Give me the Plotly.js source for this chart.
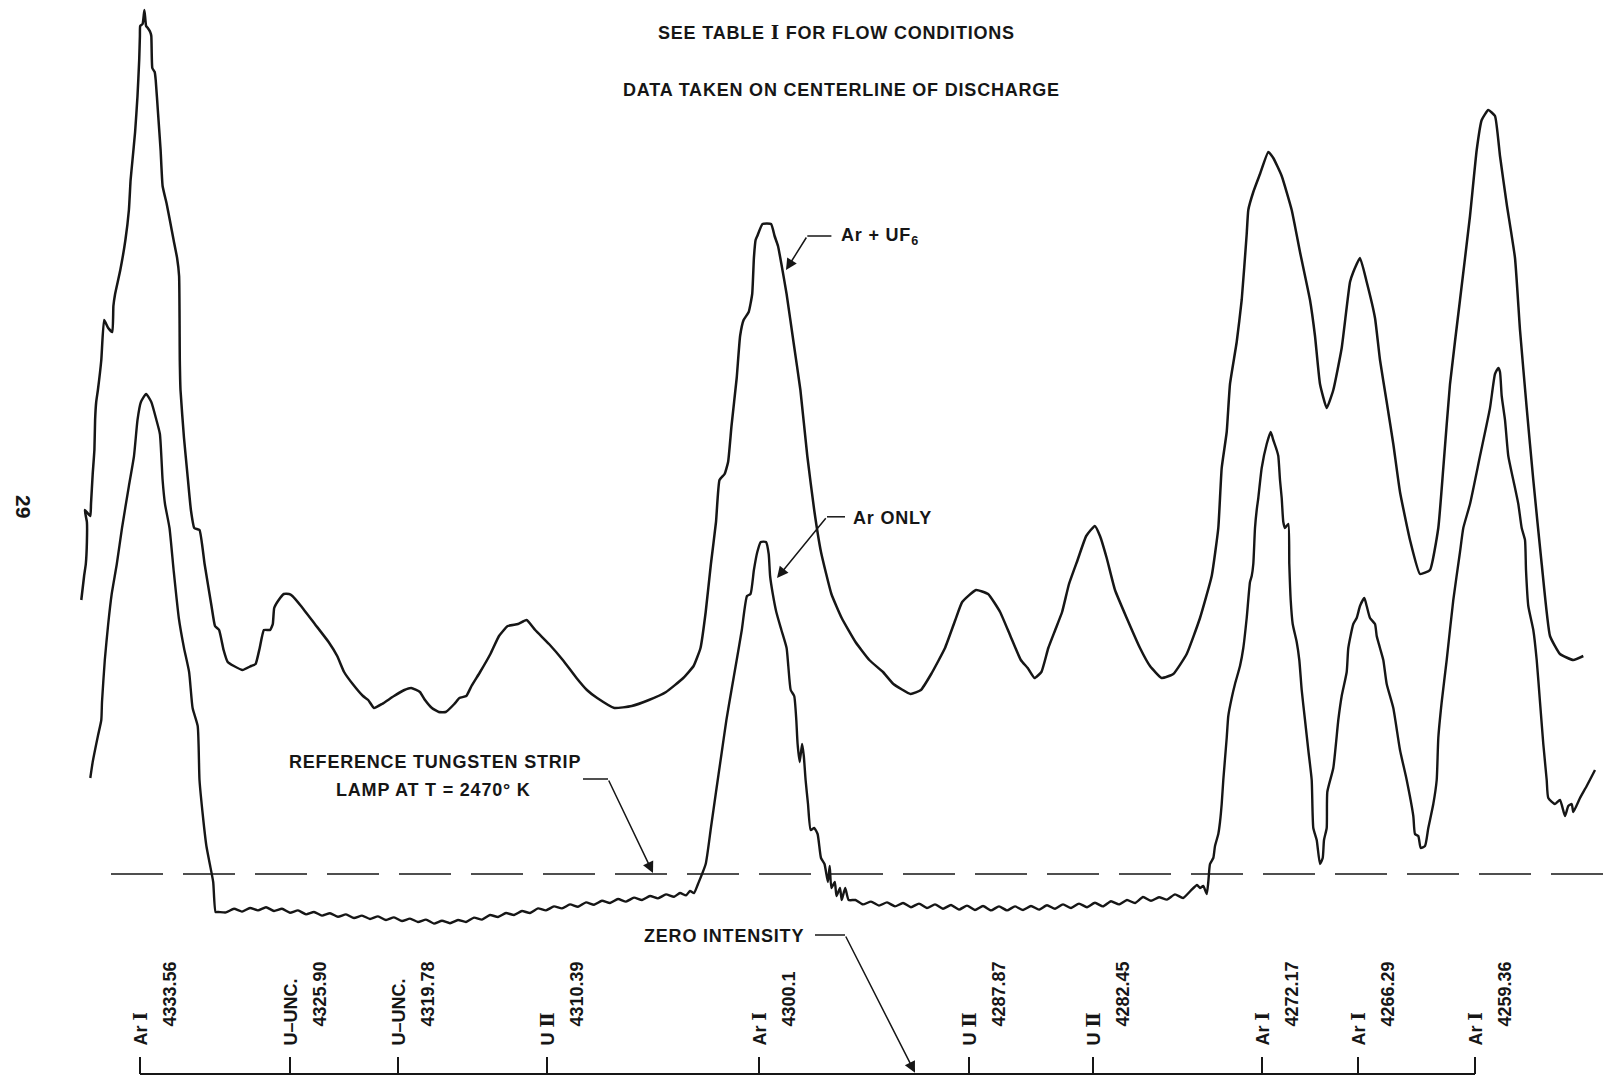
<!DOCTYPE html>
<html>
<head>
<meta charset="utf-8">
<script src="https://cdn.plot.ly/plotly-3.0.1.min.js"></script>
<style>
  html, body { margin: 0; padding: 0; background: #ffffff; }
  #chart { width: 1607px; height: 1076px; }
</style>
</head>
<body>
<div id="chart"></div>
<script>
// Spectrometer scan across 4334-4258 A, recorder position (chart units)
// versus intensity relative to the reference tungsten strip lamp.

// Ar + UF6 discharge
const posUF6 = [81.3,84.1,85.8,86.9,86.9,84.8,90.3,91.0,92.7,94.4,95.1,96.2,97.9,101.3,104.1,108.2,112.3,113.4,115.1,120.3,
  125.4,128.9,130.6,132.3,135.1,137.5,139.2,139.9,140.2,142.6,144.4,146.1,147.8,150.2,151.3,152.3,154.7,155.7,158.1,160.6,
  162.6,166.7,170.2,173.6,177.1,179.1,179.8,180.5,184.0,187.4,190.9,194.3,199.5,204.6,211.5,215.0,219.1,223.6,227.7,233.9,
  242.5,251.1,255.6,259.7,263.9,270.1,272.8,274.2,278.7,283.8,289.0,292.4,301.0,314.8,328.6,337.2,344.1,352.7,363.0,368.2,
  374.0,382.0,394.0,404.4,411.2,419.9,425.0,431.9,438.8,445.7,454.3,459.4,466.3,471.5,480.1,490.4,499.0,507.7,518.0,526.6,
  535.2,549.0,562.8,576.5,586.9,597.2,614.4,631.7,648.9,666.1,683.3,693.6,700.5,705.7,710.9,716.0,719.5,724.6,728.1,731.5,
  736.7,740.1,743.6,748.7,752.2,753.9,755.6,757.3,762.5,771.1,774.6,778.0,781.4,786.6,793.5,800.4,807.3,814.2,821.0,831.4,
  841.7,855.5,869.3,883.0,893.4,910.6,920.9,931.2,945.0,955.3,962.2,976.0,988.1,1000.1,1010.4,1020.8,1027.7,1034.5,1041.4,1048.3,
  1055.2,1062.1,1069.0,1077.6,1086.2,1094.8,1100.0,1106.7,1115.0,1126.7,1140.0,1150.0,1161.7,1173.3,1186.7,1200.0,1211.7,1218.3,1221.7,1226.7,
  1230.0,1236.7,1241.7,1246.7,1248.3,1253.3,1260.0,1268.3,1273.3,1281.7,1291.7,1300.0,1310.0,1315.0,1320.0,1326.7,1333.3,1341.7,1350.0,1353.3,
  1360.0,1366.7,1375.0,1380.0,1386.7,1393.3,1400.0,1410.0,1420.0,1430.0,1438.3,1443.3,1450.0,1460.0,1470.0,1476.7,1481.7,1488.3,1495.0,1500.0,
  1506.7,1515.0,1520.0,1526.7,1533.3,1541.7,1550.0,1560.0,1573.3,1583.3];
const intUF6 = [2.37,2.49,2.55,2.66,2.76,2.82,2.79,2.85,3.00,3.12,3.27,3.36,3.42,3.57,3.77,3.73,3.71,3.84,3.90,4.02,
  4.17,4.32,4.47,4.56,4.71,4.89,5.07,5.19,5.24,5.25,5.32,5.24,5.23,5.21,5.19,5.03,5.01,4.97,4.80,4.62,
  4.44,4.35,4.26,4.17,4.08,3.99,3.57,3.42,3.18,3.00,2.82,2.73,2.72,2.55,2.34,2.24,2.22,2.12,2.06,2.04,
  2.02,2.04,2.05,2.13,2.22,2.22,2.25,2.33,2.37,2.40,2.40,2.39,2.34,2.25,2.16,2.09,2.01,1.95,1.89,1.87,
  1.83,1.85,1.89,1.92,1.93,1.91,1.87,1.83,1.81,1.81,1.85,1.88,1.89,1.94,2.01,2.10,2.19,2.24,2.25,2.27,
  2.22,2.15,2.07,1.98,1.92,1.88,1.83,1.84,1.87,1.91,1.98,2.04,2.13,2.31,2.55,2.76,2.97,3.00,3.06,3.24,
  3.48,3.69,3.77,3.81,3.90,4.08,4.17,4.19,4.25,4.25,4.19,4.14,4.05,3.90,3.66,3.42,3.09,2.82,2.61,2.40,
  2.28,2.16,2.07,2.01,1.95,1.90,1.92,2.00,2.13,2.27,2.36,2.42,2.40,2.31,2.19,2.07,2.03,1.98,2.01,2.13,
  2.22,2.31,2.45,2.57,2.69,2.74,2.69,2.58,2.42,2.28,2.13,2.04,1.98,2.00,2.10,2.28,2.49,2.73,3.03,3.21,
  3.45,3.66,3.87,4.20,4.32,4.41,4.50,4.61,4.58,4.49,4.32,4.11,3.87,3.69,3.45,3.33,3.42,3.63,3.96,4.01,
  4.08,3.96,3.78,3.57,3.36,3.15,2.91,2.67,2.50,2.52,2.73,3.03,3.45,3.87,4.29,4.62,4.77,4.82,4.79,4.59,
  4.35,4.08,3.72,3.33,2.97,2.55,2.19,2.10,2.07,2.09];

// Ar only discharge
const posAr = [90.3,92.7,97.9,101.3,102.0,104.8,108.2,111.7,116.8,122.0,128.9,134.0,137.5,140.9,146.1,151.3,156.4,159.9,162.6,165.0,
  169.5,173.6,178.8,184.0,189.1,192.6,197.7,199.5,202.9,206.4,209.8,213.2,215.6,218.4,
  226,234,242,250,258,266,274,282,290,298,306,314,322,330,338,346,354,362,370,378,
  386,394,402,410,418,426,434,442,450,458,466,474,482,490,498,506,514,522,530,538,
  546,554,562,570,578,586,594,602,610,618,626,634,642,650,658,666,674,680,686,690,694,698,
  705.7,710.9,716.0,721.2,726.4,731.5,736.7,741.8,747.0,750.5,753.9,757.3,760.8,766.0,768.7,770.1,772.8,776.3,781.4,786.6,
  788.3,790.7,794.2,796.3,797.6,799.7,802.1,803.8,805.6,808.0,810.7,814.2,817.6,821.0,824.5,827.9,829.7,831.4,834.8,836.5,
  840.0,841.7,845.2,848.6,855.5,
  863,871,879,887,895,903,911,919,927,935,943,951,959,967,975,983,991,999,1007,1015,
  1023,1031,1039,1047,1055,1063,1071,1079,1087,1095,1103,1111,1119,1127,1135,1143,1151,1159,1167,1175,1183,1191,1197,
  1200.0,1203.3,1206.7,1208.3,1210.0,1213.3,1215.0,1218.3,1220.0,1221.7,1223.3,1226.7,1228.3,1231.7,1235.0,1240.0,1243.3,1246.7,1250.0,1251.7,
  1253.3,1255.0,1256.7,1258.3,1261.7,1266.7,1270.7,1273.3,1276.7,1278.3,1280.0,1281.7,1283.3,1285.0,1288.3,1289.3,1290.7,1292.7,1296.7,1299.3,
  1301.7,1305.0,1308.3,1311.7,1313.3,1316.7,1320.0,1322.7,1324.0,1326.7,1327.3,1333.3,1338.3,1341.7,1346.7,1348.3,1353.3,1356.7,1360.0,1364.3,
  1366.7,1370.0,1375.0,1376.7,1380.0,1383.3,1386.7,1393.3,1400.0,1406.7,1413.3,1415.0,1418.3,1420.7,1425.0,1428.3,1433.3,1436.7,1438.3,1441.7,
  1446.7,1453.3,1460.0,1463.3,1470.0,1480.0,1490.0,1495.0,1498.3,1500.0,1501.7,1505.0,1508.3,1513.3,1518.3,1521.7,1525.0,1526.0,1528.3,1533.3,
  1536.7,1540.0,1543.3,1546.7,1548.3,1555.0,1560.0,1565.0,1568.3,1571.7,1573.3,1580.0,1586.7,1595.0];
const intAr = [1.48,1.56,1.69,1.77,1.86,2.07,2.25,2.40,2.55,2.73,2.94,3.09,3.27,3.36,3.40,3.36,3.27,3.20,2.97,2.85,
  2.73,2.52,2.28,2.13,2.01,1.83,1.74,1.47,1.29,1.14,1.05,0.96,0.81,0.81,
  0.808,0.826,0.812,0.830,0.818,0.834,0.815,0.826,0.806,0.818,0.798,0.810,0.792,0.804,0.786,0.798,0.780,0.792,0.775,0.788,
  0.770,0.783,0.765,0.777,0.760,0.772,0.752,0.766,0.754,0.770,0.760,0.782,0.772,0.795,0.785,0.805,0.795,0.815,0.805,0.828,
  0.818,0.838,0.828,0.848,0.836,0.858,0.846,0.866,0.855,0.875,0.862,0.882,0.870,0.890,0.878,0.898,0.886,0.905,0.893,0.915,0.905,0.950,
  1.05,1.23,1.41,1.59,1.77,1.92,2.07,2.22,2.39,2.40,2.52,2.61,2.66,2.66,2.60,2.49,2.40,2.31,2.22,2.13,
  2.04,1.92,1.89,1.77,1.65,1.56,1.65,1.59,1.47,1.35,1.22,1.23,1.20,1.08,1.05,0.96,1.04,0.93,0.96,0.89,
  0.93,0.87,0.93,0.87,0.87,
  0.848,0.862,0.842,0.858,0.838,0.855,0.834,0.852,0.830,0.848,0.826,0.845,0.822,0.842,0.820,0.840,0.818,0.838,0.818,0.838,
  0.820,0.840,0.822,0.844,0.826,0.848,0.830,0.852,0.834,0.856,0.838,0.864,0.848,0.870,0.855,0.885,0.866,0.884,0.872,0.898,0.880,0.918,0.945,
  0.93,0.94,0.90,0.96,1.05,1.08,1.14,1.20,1.26,1.35,1.47,1.68,1.79,1.88,1.95,2.04,2.13,2.28,2.46,2.49,
  2.55,2.73,2.82,2.88,3.03,3.15,3.21,3.17,3.12,3.09,2.97,2.88,2.76,2.73,2.75,2.55,2.37,2.25,2.16,2.07,
  1.92,1.77,1.62,1.47,1.23,1.17,1.05,1.08,1.17,1.23,1.41,1.53,1.77,1.89,2.01,2.13,2.25,2.28,2.34,2.38,
  2.34,2.28,2.25,2.19,2.13,2.07,1.95,1.83,1.62,1.47,1.29,1.20,1.19,1.13,1.14,1.23,1.35,1.47,1.68,1.86,
  2.07,2.37,2.61,2.73,2.85,3.09,3.33,3.50,3.53,3.51,3.39,3.27,3.09,2.97,2.85,2.73,2.67,2.52,2.34,2.22,
  2.07,1.86,1.65,1.47,1.38,1.35,1.37,1.29,1.34,1.35,1.31,1.38,1.44,1.52];

// Identified lines on the wavelength scale
const lineSpecies = ['Ar Ⅰ', 'U–UNC.', 'U–UNC.', 'U Ⅱ', 'Ar Ⅰ', 'U Ⅱ', 'U Ⅱ', 'Ar Ⅰ', 'Ar Ⅰ', 'Ar Ⅰ'];
const lineWavelengths = ['4333.56', '4325.90', '4319.78', '4310.39', '4300.1', '4287.87', '4282.45', '4272.17', '4266.29', '4259.36'];
const linePositions = [140, 290, 398, 547, 759, 969, 1093, 1262, 1358, 1475];

// Reference tungsten strip lamp level and zero intensity
const lampLevel = 1.0;
const zeroLevel = 0.0;

const INK = '#161616';
const FONT = 'Liberation Sans, Arial, sans-serif';
const txt = (size) => ({ family: FONT, size: size, color: INK, weight: 'bold' });

// roman numerals in a serif face, lettering slightly spread
const roman = (s) => s.replace(/([ⅠⅡ])/g, '<span style="font-family:DejaVu Serif">$1</span>');
const spread = (s) => '<span style="letter-spacing:0.8px">' + roman(s) + '</span>';

// Wavelength scale: base line plus a short upright tick at each identified line
const tickLen = 0.085;
const scaleX = [linePositions[0], linePositions[linePositions.length - 1], null];
const scaleY = [zeroLevel, zeroLevel, null];
linePositions.forEach(p => { scaleX.push(p, p, null); scaleY.push(zeroLevel, zeroLevel + tickLen, null); });

const traces = [
  { x: posUF6, y: intUF6, mode: 'lines', name: 'Ar + UF6',
    line: { color: INK, width: 2.5, shape: 'spline', smoothing: 0.4 }, hoverinfo: 'skip' },
  { x: posAr, y: intAr, mode: 'lines', name: 'Ar only',
    line: { color: INK, width: 2.4, shape: 'spline', smoothing: 0.5 }, hoverinfo: 'skip' },
  { x: [111, 1607], y: [lampLevel, lampLevel], mode: 'lines', name: 'Tungsten lamp',
    line: { color: INK, width: 1.6, dash: '52px,20px' }, hoverinfo: 'skip' },
  { x: scaleX, y: scaleY, mode: 'lines', name: 'Scale',
    line: { color: INK, width: 2 }, hoverinfo: 'skip' }
];

const annotations = [
  { x: 836, y: 5.21, text: spread('SEE TABLE Ⅰ FOR FLOW CONDITIONS'), font: txt(18) },
  { x: 841, y: 4.92, text: spread('DATA TAKEN ON CENTERLINE OF DISCHARGE'), font: txt(18) },
  { x: 839, y: 4.19, text: spread('Ar + UF<sub>6</sub>'), xanchor: 'left', font: txt(18) },
  { x: 851, y: 2.78, text: spread('Ar ONLY'), xanchor: 'left', font: txt(18) },
  { x: 435, y: 1.56, text: spread('REFERENCE TUNGSTEN STRIP'), font: txt(18) },
  { x: 433, y: 1.42, text: spread('LAMP AT T = 2470° K'), font: txt(18) },
  { x: 806, y: 0.69, text: spread('ZERO INTENSITY'), xanchor: 'right', font: txt(18) },
  { x: 24, y: 2.84, text: '29', textangle: 90, font: txt(21) },
  // leader arrows
  { x: 786, y: 4.02, ax: 807.3, ay: 4.19 },
  { x: 777, y: 2.48, ax: 827, ay: 2.786 },
  { x: 653, y: 1.005, ax: 608, ay: 1.475 },
  { x: 915, y: 0.006, ax: 845, ay: 0.695 }
].map(a => {
  const base = { xref: 'x', yref: 'y', xanchor: 'center', yanchor: 'middle' };
  if (a.ax !== undefined) {
    return Object.assign(base, a, { text: '', showarrow: true, axref: 'x', ayref: 'y',
      arrowhead: 2, arrowsize: 1.5, arrowwidth: 1.5, arrowcolor: INK, standoff: 0 });
  }
  return Object.assign(base, { showarrow: false }, a);
});

// species and wavelength written upright beside each tick
linePositions.forEach((p, i) => {
  annotations.push({ x: p, y: 0.13, xref: 'x', yref: 'y', text: roman(lineSpecies[i]), textangle: -90,
    xanchor: 'center', yanchor: 'bottom', showarrow: false, font: txt(18) });
  annotations.push({ x: p + 29, y: 0.225, xref: 'x', yref: 'y', text: lineWavelengths[i], textangle: -90,
    xanchor: 'center', yanchor: 'bottom', showarrow: false, font: txt(18) });
});

// horizontal runs of the leader lines
const leader = (x0, x1, y) => ({ type: 'line', xref: 'x', yref: 'y', x0: x0, x1: x1, y0: y, y1: y,
  line: { color: INK, width: 1.5 } });
const shapes = [
  leader(831.4, 807.3, 4.19),
  leader(845, 827, 2.786),
  leader(583, 608, 1.475),
  leader(815, 845, 0.695)
];

const layout = {
  width: 1607, height: 1076,
  margin: { l: 0, r: 0, t: 0, b: 0 },
  paper_bgcolor: '#ffffff', plot_bgcolor: '#ffffff',
  showlegend: false,
  xaxis: { range: [0, 1607], visible: false, fixedrange: true },
  yaxis: { range: [-0.01, 5.37], visible: false, fixedrange: true },
  annotations: annotations,
  shapes: shapes
};

Plotly.newPlot('chart', traces, layout, { displayModeBar: false, staticPlot: true });
</script>
</body>
</html>
